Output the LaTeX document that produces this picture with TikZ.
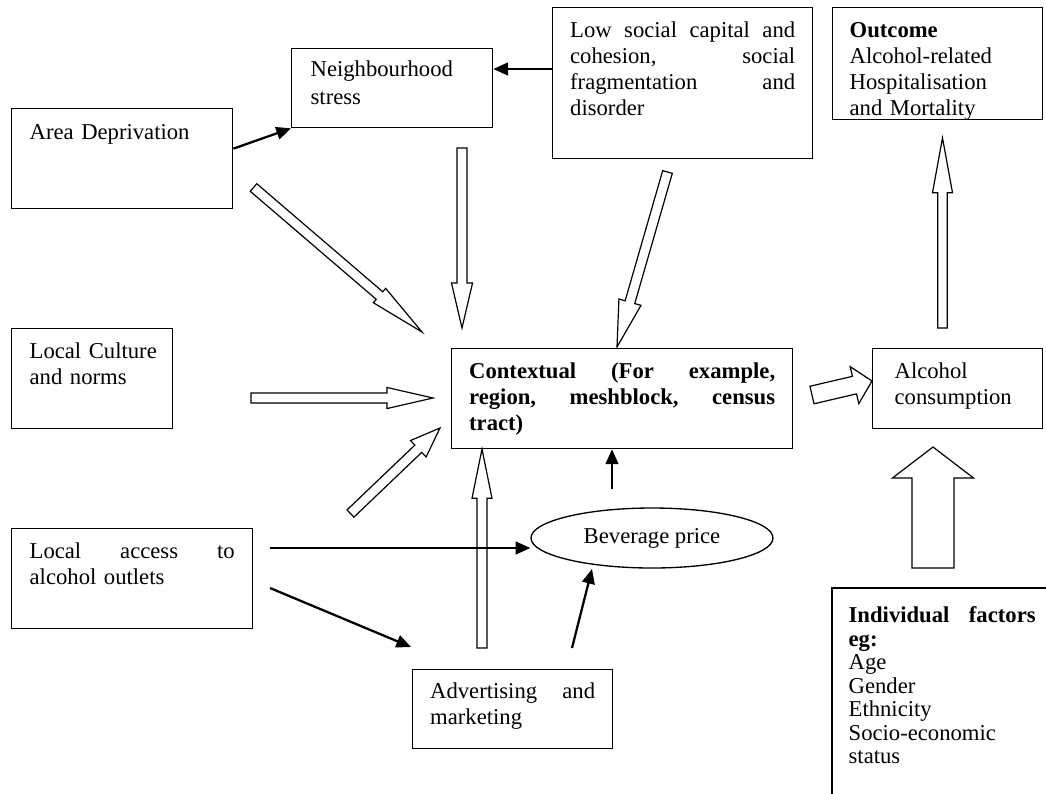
\documentclass[tikz,border=0pt]{standalone}
\usepackage{fontspec}
\setmainfont{Liberation Serif}
\usetikzlibrary{arrows.meta,calc,shapes.geometric}
\newdimen\px \px=0.75pt
% justified line: #1 width, #2 words separated by \hfill
\newcommand\jl[2]{\leavevmode\hbox to #1{#2}}
% block arrow: #1 tail, #2 tip, #3 half shaft, #4 half head, #5 head length
\newcommand\blockarr[5]{%
  \coordinate (ba) at ($(#2)!#5!(#1)$);
  \draw[blockarrow] ($(#1)!#3!90:(#2)$) -- ($(ba)!#3!90:(#2)$) -- ($(ba)!#4!90:(#2)$) -- (#2)
    -- ($(ba)!#4!-90:(#2)$) -- ($(ba)!#3!-90:(#2)$) -- ($(#1)!#3!-90:(#2)$) -- cycle;}
\begin{document}
\begin{tikzpicture}[x=0.75pt,y=-0.75pt,
  box/.style={draw, line width=1pt, anchor=north west, inner ysep=0pt, align=left,
    font=\fontsize{17}{19.5}\selectfont},
  blockarrow/.style={draw, line width=0.9pt, fill=white, line join=miter},
  conn/.style={line width=1.7pt, -{Triangle[length=11pt,width=9.5pt]}}]
\useasboundingbox (0,0) rectangle (1046,793);

% boxes
\node[box, text width=185\px, inner xsep=18\px, text height=31\px, text depth=69\px] (ad) at (11,108) {Area Deprivation};
\node[box, text width=163\px, inner xsep=19\px, text height=28\px, text depth=51\px,
  font=\fontsize{17}{21}\selectfont] (ns) at (291,48) {Neighbourhood\\stress};
\node[box, text width=225\px, inner xsep=17.5\px, text height=30\px, text depth=121\px] (ls) at (552,7)
  {\jl{225\px}{Low\hfill social\hfill capital\hfill and}\\\jl{225\px}{cohesion,\hfill social}\\\jl{225\px}{fragmentation\hfill and}\\disorder};
\node[box, text width=176\px, inner xsep=17\px, text height=30\px, text depth=82\px] (oc) at (832,7)
  {\textbf{Outcome}\\Alcohol-related\\Hospitalisation\\and Mortality};
\node[box, text width=125\px, inner xsep=18\px, text height=30\px, text depth=70\px] (lc) at (11,328)
  {\mbox{Local Culture}\\and norms};
\node[box, text width=205\px, inner xsep=18\px, text height=30\px, text depth=70\px] (la) at (11,528)
  {\jl{205\px}{Local\hfill access\hfill to}\\alcohol outlets};
\node[box, text width=306\px, inner xsep=17.5\px, text height=30\px, text depth=70\px] (cx) at (451,348)
  {\bfseries\jl{306\px}{Contextual\hfill (For\hfill example,}\\\jl{306\px}{region,\hfill meshblock,\hfill census}\\tract)};
\node[draw, line width=1pt, ellipse, minimum width=242\px, minimum height=60\px, inner sep=0pt,
  font=\fontsize{17}{19.5}\selectfont] (bp) at (652,538) {Beverage price};
\node[box, text width=165\px, inner xsep=17.5\px, text height=29\px, text depth=50\px] (am) at (412,669)
  {\jl{165\px}{Advertising\hfill and}\\marketing};
\node[box, text width=126\px, inner xsep=22\px, text height=30\px, text depth=50\px] (ac) at (872,348)
  {Alcohol\\consumption};
\node[box, draw=none, text width=187\px, inner xsep=16\px, text height=34\px, text depth=171\px,
  font=\fontsize{17}{17.6}\selectfont] (if) at (832,588)
  {\jl{187\px}{\textbf{Individual}\hfill\textbf{factors}}\\\textbf{eg:}\\Age\\Gender\\Ethnicity\\Socio-economic\\status};
\coordinate (ifr) at (1046,588);
\draw[line width=1pt] (if.south west) -- (if.north west) -- (ifr);

% block arrows
\coordinate (a1) at (462,148);   \coordinate (a2) at (462,328);
\coordinate (b1) at (667.5,172); \coordinate (b2) at (617,347);
\coordinate (c1) at (253.5,187.5); \coordinate (c2) at (422,332);
\coordinate (d1) at (251,398);   \coordinate (d2) at (433,398);
\coordinate (e1) at (350.5,513.5); \coordinate (e2) at (440,428);
\coordinate (f1) at (482,648);   \coordinate (f2) at (482,449);
\coordinate (g1) at (812,395);   \coordinate (g2) at (872,381);
\coordinate (h1) at (942.5,328); \coordinate (h2) at (942.5,138);
\coordinate (i1) at (933,568);   \coordinate (i2) at (933,447);
\blockarr{a1}{a2}{3.75pt}{7.9pt}{33.75pt}
\blockarr{b1}{b2}{3.75pt}{8.6pt}{35pt}
\blockarr{c1}{c2}{3.75pt}{7.1pt}{42pt}
\blockarr{d1}{d2}{3.75pt}{7.9pt}{34.5pt}
\blockarr{e1}{e2}{3.75pt}{8.5pt}{22.5pt}
\blockarr{f1}{f2}{3.75pt}{7.5pt}{37pt}
\blockarr{g1}{g2}{6.75pt}{14.25pt}{13.5pt}
\blockarr{h1}{h2}{3.6pt}{7.5pt}{41pt}
\blockarr{i1}{i2}{15.75pt}{30.4pt}{23.25pt}

% thin arrows
\coordinate (ar2) at (0,69);
\draw[conn] ($(ad.east)+(0,-10)$) -- (ns.south west);
\draw[conn] (ls.west |- ar2) -- (ns.east |- ar2);
\coordinate (t3) at (270,548);
\draw[conn] (t3) -- (bp.west |- t3);
\coordinate (t4a) at (270,588); \coordinate (t4b) at (411,647);
\draw[conn] (t4a) -- (t4b);
\coordinate (t5a) at (572,648); \coordinate (t5b) at (592,569);
\draw[conn] (t5a) -- (t5b);
\coordinate (t6) at (612,489);
\draw[conn] (t6) -- (cx.south -| t6);
\end{tikzpicture}
\end{document}
